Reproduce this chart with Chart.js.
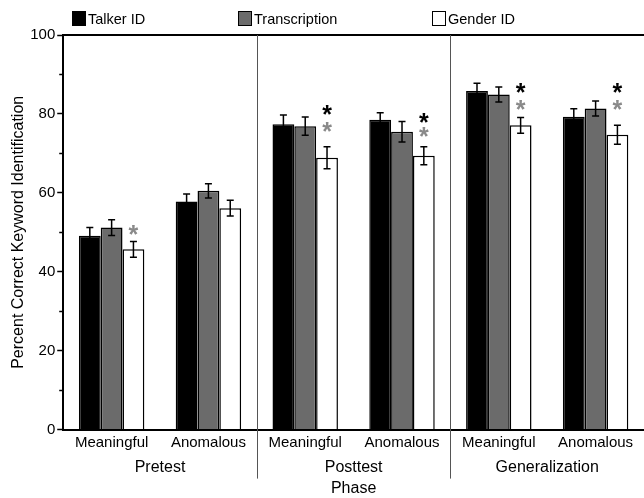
<!DOCTYPE html>
<html>
<head>
<meta charset="utf-8">
<script src="https://cdn.jsdelivr.net/npm/chart.js@4/dist/chart.umd.min.js"></script>
<style>
  html, body { margin: 0; padding: 0; background: #fff; }
  #wrap { width: 644px; height: 498px; }
</style>
</head>
<body>
<div id="wrap"><canvas id="chart"></canvas></div>
<script>
// categories
const conditions = ['Meaningful', 'Anomalous', 'Meaningful', 'Anomalous', 'Meaningful', 'Anomalous'];
const phases = ['Pretest', 'Posttest', 'Generalization'];
const seriesNames = ['Talker ID', 'Transcription', 'Gender ID'];

// percent correct
const talkerValues = [49.1, 57.8, 77.4, 78.5, 85.8, 79.3];
const transcriptionValues = [51.2, 60.5, 76.9, 75.5, 84.9, 81.4];
const genderValues = [45.7, 56.1, 68.9, 69.4, 77.1, 74.7];

// error bar half-lengths
const talkerErrors = [2.1, 1.9, 2.3, 1.8, 2.0, 2.0];
const transcriptionErrors = [2.0, 1.8, 2.3, 2.6, 1.9, 1.9];
const genderErrors = [2.0, 2.0, 2.8, 2.3, 2.0, 2.4];

// significance asterisks over the Gender ID bars (value = asterisk centre)
const blackStars = [null, null, 81.2, 79.3, 86.7, 86.7];
const grayStars = [50.9, null, 77.0, 75.7, 82.4, 82.4];

const yTicks = [0, 20, 40, 60, 80, 100];
const yMinorTicks = [10, 30, 50, 70, 90];

const FONT = '"Liberation Sans", Arial, Helvetica, sans-serif';
const GRAY = '#6b6b6b';
const STAR_GRAY = '#8a8a8a';

const errorsByDataset = [talkerErrors, transcriptionErrors, genderErrors];

// error bars drawn on top of each bar
const errorBarPlugin = {
  id: 'errorBars',
  afterDatasetsDraw(chart) {
    const ctx = chart.ctx;
    const y = chart.scales.y;
    ctx.save();
    ctx.strokeStyle = '#000';
    ctx.lineWidth = 1.5;
    chart.data.datasets.forEach((ds, i) => {
      const meta = chart.getDatasetMeta(i);
      meta.data.forEach((bar, j) => {
        const v = ds.data[j];
        const e = errorsByDataset[i][j];
        const top = y.getPixelForValue(v + e);
        const bot = y.getPixelForValue(v - e);
        ctx.beginPath();
        ctx.moveTo(bar.x, top); ctx.lineTo(bar.x, bot);
        ctx.moveTo(bar.x - 3.5, top); ctx.lineTo(bar.x + 3.5, top);
        ctx.moveTo(bar.x - 3.5, bot); ctx.lineTo(bar.x + 3.5, bot);
        ctx.stroke();
      });
    });
    ctx.restore();
  }
};

// asterisks, separators, top frame line, minor ticks, legend
const decorPlugin = {
  id: 'decor',
  afterDraw(chart) {
    const ctx = chart.ctx;
    const x = chart.scales.x;
    const y = chart.scales.y;
    const area = chart.chartArea;
    ctx.save();

    // top frame line
    ctx.strokeStyle = '#000';
    ctx.lineWidth = 2;
    ctx.beginPath();
    ctx.moveTo(area.left - 1, area.top);
    ctx.lineTo(area.right, area.top);
    ctx.stroke();

    // minor ticks
    ctx.lineWidth = 1.5;
    yMinorTicks.forEach(v => {
      const py = Math.round(y.getPixelForValue(v)) + 0.5;
      ctx.beginPath();
      ctx.moveTo(area.left - 4, py);
      ctx.lineTo(area.left, py);
      ctx.stroke();
    });

    // phase separators
    ctx.strokeStyle = '#555';
    ctx.lineWidth = 1;
    [1, 3].forEach(i => {
      const sx = Math.round((x.getPixelForValue(i) + x.getPixelForValue(i + 1)) / 2) + 0.5;
      ctx.beginPath();
      ctx.moveTo(sx, area.top);
      ctx.lineTo(sx, area.bottom + 49);
      ctx.stroke();
    });

    // asterisks over the white bars
    const whiteMeta = chart.getDatasetMeta(2);
    ctx.font = 'bold 25px ' + FONT;
    ctx.textAlign = 'center';
    ctx.textBaseline = 'alphabetic';
    const drawStars = (arr, color) => {
      ctx.fillStyle = color;
      arr.forEach((v, j) => {
        if (v === null) return;
        const bx = whiteMeta.data[j].x;
        ctx.fillText('*', bx, y.getPixelForValue(v) + 14);
      });
    };
    drawStars(grayStars, STAR_GRAY);
    drawStars(blackStars, '#000');

    // legend
    const legendX = [72, 238, 432];
    ctx.font = '14.5px ' + FONT;
    ctx.textAlign = 'left';
    chart.data.datasets.forEach((ds, i) => {
      const lx = legendX[i];
      ctx.fillStyle = ds.backgroundColor;
      ctx.fillRect(lx, 11, 14, 15);
      ctx.strokeStyle = '#000';
      ctx.lineWidth = 1;
      ctx.strokeRect(lx + 0.5, 11.5, 13, 14);
      ctx.fillStyle = '#000';
      ctx.fillText(ds.label, lx + 16, 24);
    });

    ctx.restore();
  }
};

const barStyle = { borderColor: '#000', borderWidth: 1.5, categoryPercentage: 0.676, barPercentage: 1.0 };

new Chart(document.getElementById('chart'), {
  type: 'bar',
  data: {
    labels: conditions,
    datasets: [
      { label: seriesNames[0], data: talkerValues, backgroundColor: '#000', ...barStyle },
      { label: seriesNames[1], data: transcriptionValues, backgroundColor: GRAY, ...barStyle },
      { label: seriesNames[2], data: genderValues, backgroundColor: '#fff', ...barStyle }
    ]
  },
  options: {
    responsive: true,
    maintainAspectRatio: false,
    animation: false,
    layout: { padding: { top: 35, left: 5, right: -2, bottom: 0 } },
    plugins: {
      legend: { display: false },
      tooltip: { enabled: false }
    },
    scales: {
      x: {
        type: 'category',
        position: 'bottom',
        grid: { display: false, drawTicks: false, tickLength: 0 },
        border: { display: true, color: '#000', width: 2 },
        ticks: { color: '#000', font: { family: FONT, size: 15 }, padding: 4, maxRotation: 0, autoSkip: false }
      },
      x2: {
        type: 'category',
        position: 'bottom',
        labels: phases,
        offset: true,
        grid: { display: false, drawTicks: false, tickLength: 0 },
        border: { display: false },
        ticks: { color: '#000', font: { family: FONT, size: 16 }, padding: 2, maxRotation: 0 },
        title: { display: true, text: 'Phase', color: '#000', font: { family: FONT, size: 16 }, padding: { top: 0, bottom: 0 } }
      },
      y: {
        min: 0,
        max: 100,
        afterBuildTicks: axis => { axis.ticks = yTicks.map(v => ({ value: v })); },
        grid: { drawOnChartArea: false, color: '#000', tickLength: 6, tickWidth: 1.5 },
        border: { display: true, color: '#000', width: 2 },
        ticks: { color: '#000', font: { family: FONT, size: 15 }, padding: 2 },
        title: { display: true, text: 'Percent Correct Keyword Identification', color: '#000', font: { family: FONT, size: 16 }, padding: { top: 4, bottom: 0 } }
      }
    }
  },
  plugins: [errorBarPlugin, decorPlugin]
});
</script>
</body>
</html>
